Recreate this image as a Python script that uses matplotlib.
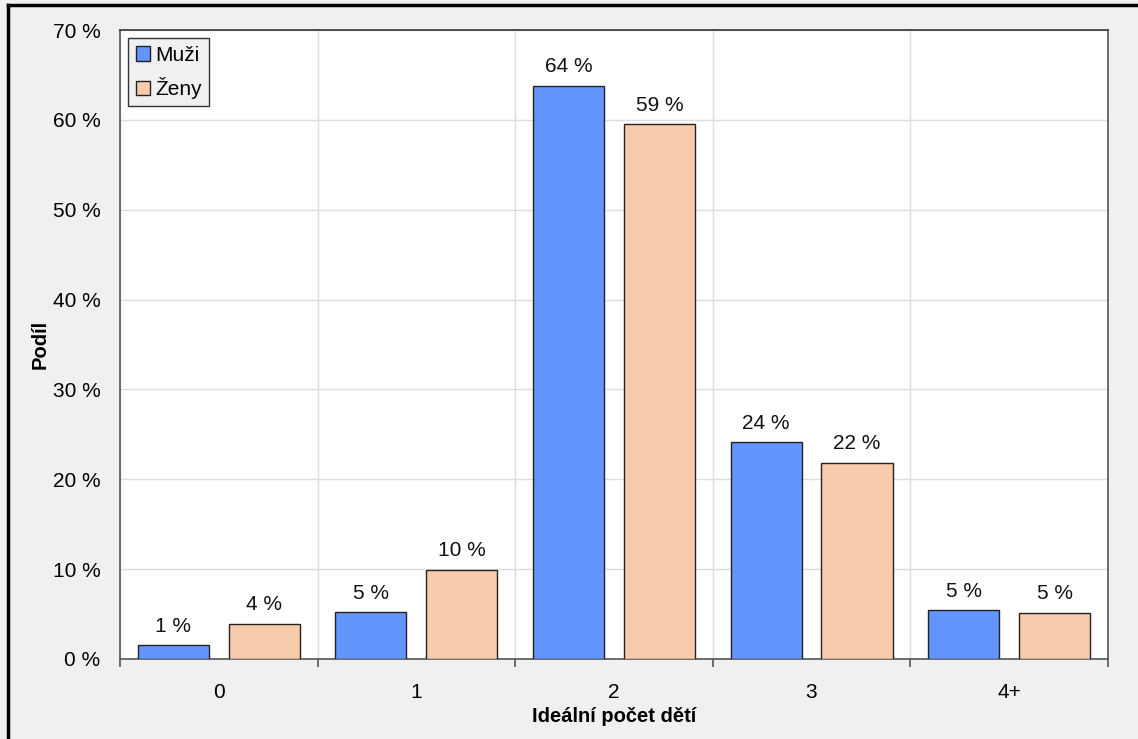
import matplotlib
matplotlib.use("Agg")
import matplotlib.pyplot as plt
import numpy as np
from matplotlib.lines import Line2D
from matplotlib.ticker import FuncFormatter, FixedLocator, MultipleLocator

categories = ["0", "1", "2", "3", "4+"]
muzi = [1.5, 5.2, 63.8, 24.1, 5.4]
zeny = [3.9, 9.9, 59.5, 21.8, 5.1]
muzi_labels = ["1 %", "5 %", "64 %", "24 %", "5 %"]
zeny_labels = ["4 %", "10 %", "59 %", "22 %", "5 %"]
series_names = ["Muži", "Ženy"]

plt.rcParams['font.family'] = ['Liberation Sans', 'DejaVu Sans']

fig = plt.figure(figsize=(11.38, 7.39), dpi=100, facecolor="#f0f0f0")
ax = fig.add_axes([0.1054, 0.1083, 0.9736 - 0.1054, 0.9594 - 0.1083])
ax.set_facecolor("white")

x = np.arange(len(categories))
w = 0.36
off = 0.23
b1 = ax.bar(x - off, muzi, w, color="#6495fd", edgecolor="#222222", linewidth=1.0,
            label=series_names[0], zorder=3)
b2 = ax.bar(x + off, zeny, w, color="#f7cbac", edgecolor="#222222", linewidth=1.0,
            label=series_names[1], zorder=3)
ax.bar_label(b1, labels=muzi_labels, padding=7, fontsize=15, color="#111111")
ax.bar_label(b2, labels=zeny_labels, padding=7, fontsize=15, color="#111111")

ax.set_xlim(-0.5, len(categories) - 0.5)
ax.set_ylim(0, 70)
ax.yaxis.set_major_locator(MultipleLocator(10))
ax.yaxis.set_major_formatter(FuncFormatter(lambda v, p: f"{int(v)} %"))

ax.set_xticks(x)
ax.set_xticklabels(categories)
ax.xaxis.set_minor_locator(FixedLocator(np.arange(-0.5, len(categories), 1.0)))
ax.tick_params(axis="x", which="major", length=0, pad=17, labelsize=15)
ax.tick_params(axis="x", which="minor", length=6, color="#555555", width=1.2)
ax.tick_params(axis="y", length=0, pad=14, labelsize=15)

ax.grid(axis="y", which="major", color="#dddddd", linewidth=1.0, zorder=0)
ax.grid(axis="x", which="minor", color="#dddddd", linewidth=1.0, zorder=0)

for s in ax.spines.values():
    s.set_color("#555555")
    s.set_linewidth(1.2)
ax.spines["top"].set_color("#333333")

ax.set_xlabel("Ideální počet dětí", fontsize=14.5, fontweight="bold", labelpad=4)
ax.set_ylabel("Podíl", fontsize=14.5, fontweight="bold", labelpad=2)

leg = ax.legend(loc="upper left", bbox_to_anchor=(0.0, 1.0), borderaxespad=0.4,
                fontsize=15, frameon=True, fancybox=False, handlelength=0.7,
                handleheight=0.7, handletextpad=0.25, borderpad=0.35, labelspacing=0.6)
leg.get_frame().set_facecolor("#f0f0f0")
leg.get_frame().set_edgecolor("#333333")
leg.get_frame().set_linewidth(1.0)
leg.get_frame().set_alpha(1.0)

# figure frame (top and left edges visible)
fig.add_artist(Line2D([0.007, 1.0], [0.993, 0.993], color="black", linewidth=2.5,
                      transform=fig.transFigure))
fig.add_artist(Line2D([0.007, 0.007], [0.0, 0.993], color="black", linewidth=2.5,
                      transform=fig.transFigure))

fig.savefig("out.png", dpi=100, facecolor=fig.get_facecolor())
